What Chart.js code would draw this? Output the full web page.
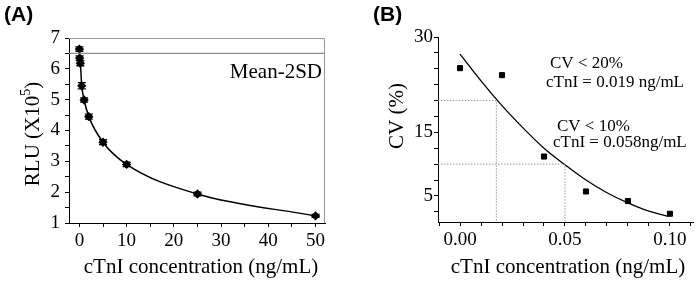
<!DOCTYPE html>
<html>
<head>
<meta charset="utf-8">
<script src="https://cdn.jsdelivr.net/npm/chart.js@4.4.0/dist/chart.umd.min.js"></script>
<style>
body { margin: 0; background: #fff; }
#wrap { position: relative; width: 700px; height: 282px; }
canvas { position: absolute; top: 0; }
#chartA { left: 0; }
#chartB { left: 350px; }
</style>
</head>
<body>
<div id="wrap">
	<canvas id="chartA" width="350" height="282"></canvas>
	<canvas id="chartB" width="350" height="282"></canvas>
</div>
<script>
// (A) calibration curve, RLU x10^5 vs cTnI
var rluConc = [0, 0.05, 0.2, 0.5, 1, 2, 5, 10, 25, 50];
var rluValue = [6.64, 6.35, 6.18, 5.45, 4.99, 4.45, 3.62, 2.90, 1.94, 1.23];
var rluErr = [0.07, 0.07, 0.08, 0.1, 0.07, 0.08, 0.08, 0.07, 0.06, 0.05];
var meanMinus2SD = 6.5;
var rluTicksX = [0, 5, 10, 15, 20, 25, 30, 35, 40, 45, 50];
var rluTicksY = [1, 1.5, 2, 2.5, 3, 3.5, 4, 4.5, 5, 5.5, 6, 6.5, 7];

// (B) precision profile, CV % vs cTnI
var cvConc = [0, 0.02, 0.04, 0.06, 0.08, 0.10];
var cvValue = [25.1, 24.0, 11.2, 5.7, 4.2, 2.2];
var cvFitConc = [0, 0.01, 0.02, 0.03, 0.04, 0.05, 0.06, 0.07, 0.08, 0.09, 0.099];
var cvFitValue = [27.3, 23.1, 19.2, 15.7, 12.5, 9.9, 7.5, 5.5, 3.9, 2.6, 1.8];
var cvLimit = [20, 10];
var cvLimitConc = [0.0173, 0.05];
var cvTicksX = [-0.01, 0, 0.01, 0.02, 0.03, 0.04, 0.05, 0.06, 0.07, 0.08, 0.09, 0.10, 0.11];
var cvTicksY = [2.5, 5, 7.5, 10, 12.5, 15, 17.5, 20, 22.5, 25, 27.5, 30];
var cvLabelY = [5, 15, 30];

var SERIF = '"Liberation Serif", "Times New Roman", serif';
Chart.defaults.font.family = SERIF;
Chart.defaults.color = '#000';

var A_X = { min: -2.2, max: 52 };
var A_Y = { min: 1, max: 7 };
var B_X = { min: -0.0105, max: 0.111 };
var B_Y = { min: 0.9, max: 30 };


// free text: panel letters, axis titles, notes (sup = superscript part)
var panelText = {
	id: 'panelText',
	afterDraw: function (chart, args, opts) {
		var ctx = chart.ctx;
		(opts.items || []).forEach(function (it) {
			ctx.save();
			ctx.font = it.font;
			ctx.fillStyle = '#000';
			ctx.textBaseline = it.baseline || 'alphabetic';
			ctx.translate(it.x, it.y);
			if (it.rotate) ctx.rotate(it.rotate);
			if (it.sup) {
				var w1 = ctx.measureText(it.text).width;
				var w3 = ctx.measureText(it.after).width;
				ctx.font = it.supFont;
				var w2 = ctx.measureText(it.sup).width;
				var x0 = -(w1 + w2 + w3) / 2;
				ctx.textAlign = 'left';
				ctx.font = it.font;
				ctx.fillText(it.text, x0, 0);
				ctx.font = it.supFont;
				ctx.fillText(it.sup, x0 + w1, -7);
				ctx.font = it.font;
				ctx.fillText(it.after, x0 + w1 + w2, 0);
			} else {
				ctx.textAlign = it.align || 'left';
				ctx.fillText(it.text, 0, 0);
			}
			ctx.restore();
		});
	}
};

var errorBars = {
	id: 'errorBars',
	afterDatasetsDraw: function (chart) {
		var ctx = chart.ctx;
		var yScale = chart.scales.y;
		chart.data.datasets.forEach(function (ds, i) {
			if (!ds.errors) return;
			var meta = chart.getDatasetMeta(i);
			ctx.save();
			ctx.strokeStyle = '#000';
			ctx.lineWidth = 1.3;
			meta.data.forEach(function (pt, j) {
				var top = yScale.getPixelForValue(ds.data[j].y + ds.errors[j]);
				var bot = yScale.getPixelForValue(ds.data[j].y - ds.errors[j]);
				ctx.beginPath();
				ctx.moveTo(pt.x, top); ctx.lineTo(pt.x, bot);
				ctx.moveTo(pt.x - 4, top); ctx.lineTo(pt.x + 4, top);
				ctx.moveTo(pt.x - 4, bot); ctx.lineTo(pt.x + 4, bot);
				ctx.stroke();
			});
			ctx.restore();
		});
	}
};

// gray top + right edge of panel A
var boxFrame = {
	id: 'boxFrame',
	beforeDatasetsDraw: function (chart) {
		var ctx = chart.ctx, a = chart.chartArea;
		ctx.save();
		ctx.strokeStyle = '#999';
		ctx.lineWidth = 1;
		ctx.beginPath();
		ctx.moveTo(a.left, Math.round(a.top) + 0.5);
		ctx.lineTo(Math.round(a.right) - 0.5, Math.round(a.top) + 0.5);
		ctx.lineTo(Math.round(a.right) - 0.5, a.bottom);
		ctx.stroke();
		ctx.restore();
	}
};


function fixedTicks(list) {
	return function (scale) {
		scale.ticks = list.map(function (v) { return { value: v }; });
	};
}

function axisX(range, ticks, label, height) {
	return {
		type: 'linear',
		position: 'bottom',
		min: range.min,
		max: range.max,
		afterBuildTicks: fixedTicks(ticks),
		afterFit: function (s) { s.height = height; },
		border: { color: '#000', width: 1 },
		grid: { drawOnChartArea: false, tickLength: 4, color: '#000' },
		ticks: { font: { size: 19 }, color: '#000', padding: 3, maxRotation: 0, autoSkip: false, callback: label }
	};
}

function axisY(range, ticks, label, width, pad) {
	return {
		type: 'linear',
		min: range.min,
		max: range.max,
		afterBuildTicks: fixedTicks(ticks),
		afterFit: function (s) { s.width = width; },
		border: { color: '#000', width: 1 },
		grid: { drawOnChartArea: false, tickLength: 4, color: '#000' },
		ticks: { font: { size: 19 }, color: '#000', padding: pad, autoSkip: false, callback: label }
	};
}


// ---------- chart A ----------
var ctxA = document.getElementById('chartA').getContext('2d');
new Chart(ctxA, {
	type: 'line',
	data: {
		datasets: [
			{
				label: 'Mean-2SD',
				data: [{ x: A_X.min, y: meanMinus2SD }, { x: A_X.max, y: meanMinus2SD }],
				borderColor: '#8c8c8c',
				borderWidth: 1.2,
				pointRadius: 0
			},
			{
				label: 'RLU',
				data: rluConc.map(function (c, i) { return { x: c, y: rluValue[i] }; }),
				errors: rluErr,
				borderColor: '#000',
				borderWidth: 1.5,
				cubicInterpolationMode: 'monotone',
				pointStyle: 'rectRot',
				pointRadius: 3.6,
				pointBackgroundColor: '#000',
				pointBorderColor: '#000'
			}
		]
	},
	options: {
		responsive: false,
		animation: false,
		layout: { padding: { left: 0, right: 25, top: 38, bottom: 0 } },
		plugins: {
			legend: { display: false },
			tooltip: { enabled: false },
			panelText: {
				items: [
					{ text: '(A)', x: 4, y: 15, baseline: 'middle', font: 'bold 21px "Liberation Sans", Arial, sans-serif' },
					{ text: 'Mean-2SD', x: 322, y: 78, align: 'right', font: '21px ' + SERIF },
					{ text: 'RLU (X10', sup: '5', after: ')', x: 33, y: 134, rotate: -Math.PI / 2, baseline: 'middle', font: '21px ' + SERIF, supFont: '14px ' + SERIF },
					{ text: 'cTnI concentration (ng/mL)', x: 201, y: 267, align: 'center', baseline: 'middle', font: '21px ' + SERIF }
				]
			}
		},
		scales: {
			x: axisX(A_X, rluTicksX, function (v) { return v % 10 === 0 ? v : ''; }, 59),
			y: axisY(A_Y, rluTicksY, function (v) { return v % 1 === 0 ? v : ''; }, 69, 5)
		}
	},
	plugins: [panelText, errorBars, boxFrame]
});


// ---------- chart B ----------
var ctxB = document.getElementById('chartB').getContext('2d');
var dotted = {
	borderColor: '#9a9a9a',
	borderWidth: 1,
	borderDash: [1.5, 1.5],
	pointRadius: 0,
	fill: false
};
var limitSets = cvLimit.map(function (cv, i) {
	return Object.assign({
		label: 'CV ' + cv + '%',
		data: [{ x: B_X.min, y: cv }, { x: cvLimitConc[i], y: cv }, { x: cvLimitConc[i], y: B_Y.min }]
	}, dotted);
});

new Chart(ctxB, {
	type: 'line',
	data: {
		datasets: limitSets.concat([
			{
				label: 'fit',
				data: cvFitConc.map(function (c, i) { return { x: c, y: cvFitValue[i] }; }),
				borderColor: '#000',
				borderWidth: 1.3,
				cubicInterpolationMode: 'monotone',
				pointRadius: 0
			},
			{
				label: 'CV',
				data: cvConc.map(function (c, i) { return { x: c, y: cvValue[i] }; }),
				showLine: false,
				pointStyle: 'rect',
				pointRadius: 3.6,
				pointBackgroundColor: '#000',
				pointBorderColor: '#000'
			}
		])
	},
	options: {
		responsive: false,
		animation: false,
		layout: { padding: { left: 0, right: 7, top: 37, bottom: 0 } },
		plugins: {
			legend: { display: false },
			tooltip: { enabled: false },
			panelText: {
				items: [
					{ text: '(B)', x: 23, y: 15, baseline: 'middle', font: 'bold 21px "Liberation Sans", Arial, sans-serif' },
					{ text: 'CV < 20%', x: 200, y: 68, font: '17px ' + SERIF },
					{ text: 'cTnI = 0.019 ng/mL', x: 196, y: 87, font: '17px ' + SERIF },
					{ text: 'CV < 10%', x: 207, y: 131, font: '17px ' + SERIF },
					{ text: 'cTnI = 0.058ng/mL', x: 203, y: 147, font: '17px ' + SERIF },
					{ text: 'CV (%)', x: 47, y: 116, align: 'center', baseline: 'middle', rotate: -Math.PI / 2, font: '21px ' + SERIF },
					{ text: 'cTnI concentration (ng/mL)', x: 218, y: 267, align: 'center', baseline: 'middle', font: '21px ' + SERIF }
				]
			}
		},
		scales: {
			x: axisX(B_X, cvTicksX, function (v) {
				var k = Math.round(v * 100);
				return (k >= 0 && k % 5 === 0) ? (k / 100).toFixed(2) : '';
			}, 60),
			y: axisY(B_Y, cvTicksY, function (v) { return cvLabelY.indexOf(v) >= 0 ? v : ''; }, 88, 1)
		}
	},
	plugins: [panelText]
});
</script>
</body>
</html>
